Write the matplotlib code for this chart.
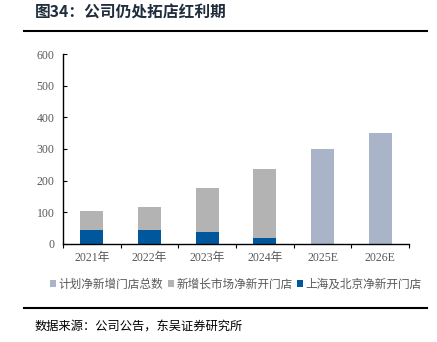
import matplotlib.pyplot as plt
import numpy as np

# 字体：中文用思源黑体，数字用衬线体
plt.rcParams['font.family'] = ['Noto Sans CJK SC', 'DejaVu Sans']

years = ['2021年', '2022年', '2023年', '2024年', '2025E', '2026E']
# 上海及北京净新开门店
bj_sh = [43, 43, 37, 18, 0, 0]
# 新增长市场净新开门店
new_market = [60, 75, 141, 220, 0, 0]
# 计划净新增门店总数
plan_total = [0, 0, 0, 0, 300, 350]

c_plan = '#aab4c9'
c_new = '#b3b3b3'
c_bj = '#00579c'
c_tick = '#595959'

fig = plt.figure(figsize=(4.37, 3.42), dpi=100)
ax = fig.add_axes((0.144, 0.287, 0.792, 0.555))

x = np.arange(len(years))
w = 0.4
ax.bar(x, plan_total, width=w, color=c_plan, label='计划净新增门店总数')
ax.bar(x, new_market, width=w, bottom=bj_sh, color=c_new, label='新增长市场净新开门店')
ax.bar(x, bj_sh, width=w, color=c_bj, label='上海及北京净新开门店')

ax.set_xlim(-0.5, len(years) - 0.5)
ax.set_ylim(0, 600)
ax.set_yticks(range(0, 601, 100))
ax.set_xticks(x)
ax.set_xticklabels(years)
ax.set_xticks(np.arange(-0.5, len(years), 1), minor=True)

for s in ['top', 'right']:
    ax.spines[s].set_visible(False)
for s in ['left', 'bottom']:
    ax.spines[s].set_linewidth(1.0)
    ax.spines[s].set_color('black')

ax.tick_params(axis='y', direction='in', length=3, width=0.8, colors='black',
               labelcolor=c_tick, labelsize=8.5, pad=6)
ax.tick_params(axis='x', which='major', length=0, labelcolor=c_tick,
               labelsize=8.5, pad=6)
ax.tick_params(axis='x', which='minor', direction='out', length=3, width=0.8)
for lab in ax.get_yticklabels() + ax.get_xticklabels():
    lab.set_family(['Liberation Serif', 'Noto Sans CJK SC'])

leg = ax.legend(loc='upper center', bbox_to_anchor=(0.5, -0.155), ncol=3,
                frameon=False, fontsize=8.4, handlelength=0.5, handleheight=0.5,
                handletextpad=0.25, columnspacing=0.35, borderaxespad=0)
for t in leg.get_texts():
    t.set_color(c_tick)

# 标题与上下分隔线
fig.text(0.08, 0.962, '图34：公司仍处拓店红利期', fontsize=11.3, fontweight='bold',
         color='#1f2d3d', va='center', ha='left')
fig.add_artist(plt.Line2D([0.055, 0.977], [0.909, 0.909], color='black', lw=1.5))
fig.add_artist(plt.Line2D([0.055, 0.977], [0.099, 0.099], color='black', lw=1.5))
fig.text(0.08, 0.044, '数据来源：公司公告，东吴证券研究所', fontsize=8.8,
         color='black', va='center', ha='left')

fig.savefig('out.png', dpi=100)
